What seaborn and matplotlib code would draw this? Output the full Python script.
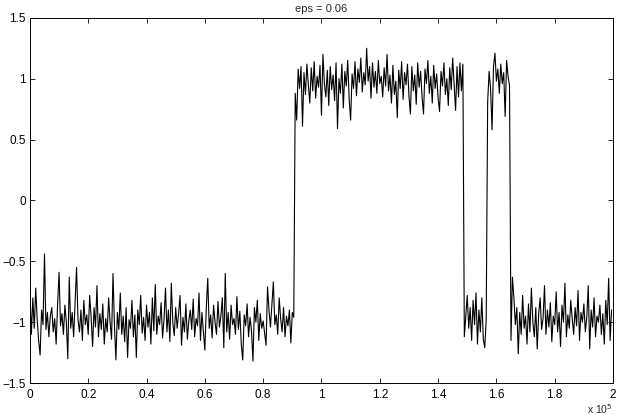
import numpy as np
import pandas as pd
import matplotlib
matplotlib.use("Agg")
import matplotlib.pyplot as plt
import seaborn as sns

# ---------------- data ----------------
sample_step = 500  # x spacing between samples

low1 = [
    -0.74, -1.10, -0.80, -1.05, -0.72, -0.98, -1.15, -1.27, -0.90, -1.02,
    -0.44, -1.06, -0.92, -1.12, -0.95, -0.88, -1.08, -0.97, -1.18, -0.85,
    -0.59, -1.03, -0.93, -1.10, -0.86, -1.00, -1.30, -0.63, -1.05, -0.92,
    -1.12, -0.84, -0.55, -0.98, -1.08, -0.90, -1.15, -0.82, -1.02, -0.94,
    -1.10, -0.78, -0.96, -1.20, -0.88, -1.04, -0.70, -1.12, -0.93, -1.06,
    -0.85, -1.18, -0.97, -1.08, -0.80, -1.00, -1.14, -0.60, -1.03, -1.31,
    -0.92, -1.06, -0.76, -1.10, -0.95, -1.16, -0.88, -1.29, -0.98, -1.05,
    -0.82, -1.12, -0.94, -1.29, -0.90, -1.02, -0.78, -1.09, -0.96, -1.15,
    -0.86, -1.04, -0.92, -1.18, -0.80, -1.07, -0.69, -1.10, -0.95, -1.02,
    -0.84, -1.13, -0.98, -0.72, -1.08, -0.90, -1.16, -0.68, -1.00, -1.11,
    -0.88, -1.05, -0.93, -0.78, -1.19, -0.96, -1.08, -0.85, -1.14, -0.99,
    -0.90, -1.06, -0.81, -1.12, -0.97, -1.03, -0.76, -1.15, -0.92, -1.07,
    -1.23, -0.88, -0.64, -1.05, -0.94, -1.13, -0.86, -1.00, -1.10, -0.83,
    -1.04, -0.95, -0.80, -1.21, -0.60, -1.08, -0.92, -1.14, -0.86, -1.02,
    -0.97, -1.10, -0.79, -1.06, -0.91, -1.18, -1.31, -0.94, -1.03, -0.85,
    -1.12, -0.96, -1.07, -1.32, -0.88, -1.00, -0.82, -1.15, -0.93, -1.05,
    -0.99, -1.09, -1.19, -0.71, -0.90, -1.04, -0.85, -0.67, -1.02, -0.94,
    -1.10, -0.80, -0.97, -1.08, -0.88, -1.12, -0.95, -1.03, -0.90, -1.17,
    -0.92, -0.96,
]

high1 = [
    0.88, 0.66, 1.08, 0.92, 1.10, 0.61, 1.05, 0.87, 1.12, 0.95,
    0.80, 1.09, 0.90, 1.14, 0.84, 1.02, 0.93, 1.11, 0.70, 1.20,
    0.96, 0.85, 1.07, 0.78, 1.10, 0.91, 1.03, 0.82, 1.13, 0.59,
    1.00, 0.88, 1.12, 0.76, 1.06, 0.94, 1.15, 0.83, 0.66, 1.04,
    0.92, 1.14, 0.86, 1.08, 0.97, 1.17, 0.89, 1.05, 0.95, 1.25,
    0.98, 1.10, 0.84, 1.13, 0.93, 1.06, 0.88, 1.15, 0.96, 1.02,
    0.85, 1.09, 0.94, 1.20, 0.90, 1.03, 0.80, 1.11, 0.87, 0.98,
    0.68, 1.07, 0.92, 1.14, 0.83, 1.05, 0.95, 1.12, 0.86, 0.71,
    1.10, 0.90, 1.03, 0.79, 1.13, 0.93, 1.06, 0.85, 0.71, 1.08,
    0.96, 1.15, 0.88, 1.02, 0.80, 1.11, 0.92, 1.04, 0.84, 0.73,
    1.06, 0.94, 1.13, 0.87, 1.00, 0.78, 1.09, 0.91, 1.17, 0.96,
    0.74, 1.10, 0.85, 1.13, 0.90, 1.12,
]

low2 = [
    -1.12, -0.95, -0.78, -1.05, -0.88, -1.15, -0.82, -1.02,
    -0.76, -1.18, -0.90, -1.08, -0.80, -1.14, -1.21, -0.98,
]

high2 = [
    0.81, 1.06, 0.92, 0.58, 1.10, 1.21, 0.98, 1.08,
    0.88, 1.12, 0.96, 1.05, 0.69, 1.15, 1.02, 0.94,
]

low3 = [
    -1.15, -0.63, -0.80, -1.02, -0.88, -1.26, -0.92, -1.10, -0.78, -1.05,
    -0.95, -1.18, -0.85, -1.08, -0.72, -1.00, -1.12, -0.88, -1.22, -0.93,
    -0.80, -1.06, -0.97, -0.70, -1.10, -0.90, -1.04, -0.84, -1.16, -0.95,
    -1.02, -0.75, -1.08, -0.92, -1.20, -0.86, -1.00, -0.68, -1.12, -0.94,
    -1.05, -0.82, -0.97, -1.10, -0.88, -1.03, -0.74, -1.15, -0.92, -1.00,
    -0.85, -1.08, -0.96, -0.70, -1.22, -0.90, -1.04, -0.80, -1.12, -0.95,
    -1.00, -0.86, -1.10, -0.93, -1.18, -0.82, -1.02, -0.64, -1.15, -0.90,
]

x_ticks = [0, 20000, 40000, 60000, 80000, 100000, 120000, 140000, 160000, 180000, 200000]
x_tick_labels = ["0", "0.2", "0.4", "0.6", "0.8", "1", "1.2", "1.4", "1.6", "1.8", "2"]
y_ticks = [-1.5, -1, -0.5, 0, 0.5, 1, 1.5]
y_tick_labels = ["\u22121.5", "\u22121", "\u22120.5", "0", "0.5", "1", "1.5"]
title_text = "eps = 0.06"

# ---------------- build table ----------------
values = low1 + high1 + low2 + high2 + low3
df = pd.DataFrame({"x": np.arange(len(values)) * sample_step, "y": values})

# ---------------- plot ----------------
sns.set_style("white")
plt.rcParams["font.family"] = ["Liberation Sans", "DejaVu Sans"]

fig = plt.figure(figsize=(6.23, 4.15), dpi=100)
ax = fig.add_axes([0.048, 0.077, 0.936, 0.880])

sns.lineplot(data=df, x="x", y="y", ax=ax, color="black", linewidth=0.8,
             estimator=None, sort=False)

ax.set_xlim(0, 200000)
ax.set_ylim(-1.5, 1.5)
ax.set_xticks(x_ticks)
ax.set_xticklabels(x_tick_labels)
ax.set_yticks(y_ticks)
ax.set_yticklabels(y_tick_labels)
ax.set_xlabel("")
ax.set_ylabel("")
ax.set_title(title_text, fontsize=8, pad=4)

ax.tick_params(direction="in", length=3.5, width=0.6, labelsize=8.5,
               top=True, right=True, bottom=True, left=True, colors="black")
ax.tick_params(axis="x", pad=4)
ax.tick_params(axis="y", pad=3)
for s in ax.spines.values():
    s.set_visible(True)
    s.set_color("black")
    s.set_linewidth(0.7)

ax.text(1.0, -0.072, "x 10$^{5}$", transform=ax.transAxes, ha="right",
        va="center", fontsize=7.5)

fig.savefig("out.png", dpi=100, facecolor="white")
